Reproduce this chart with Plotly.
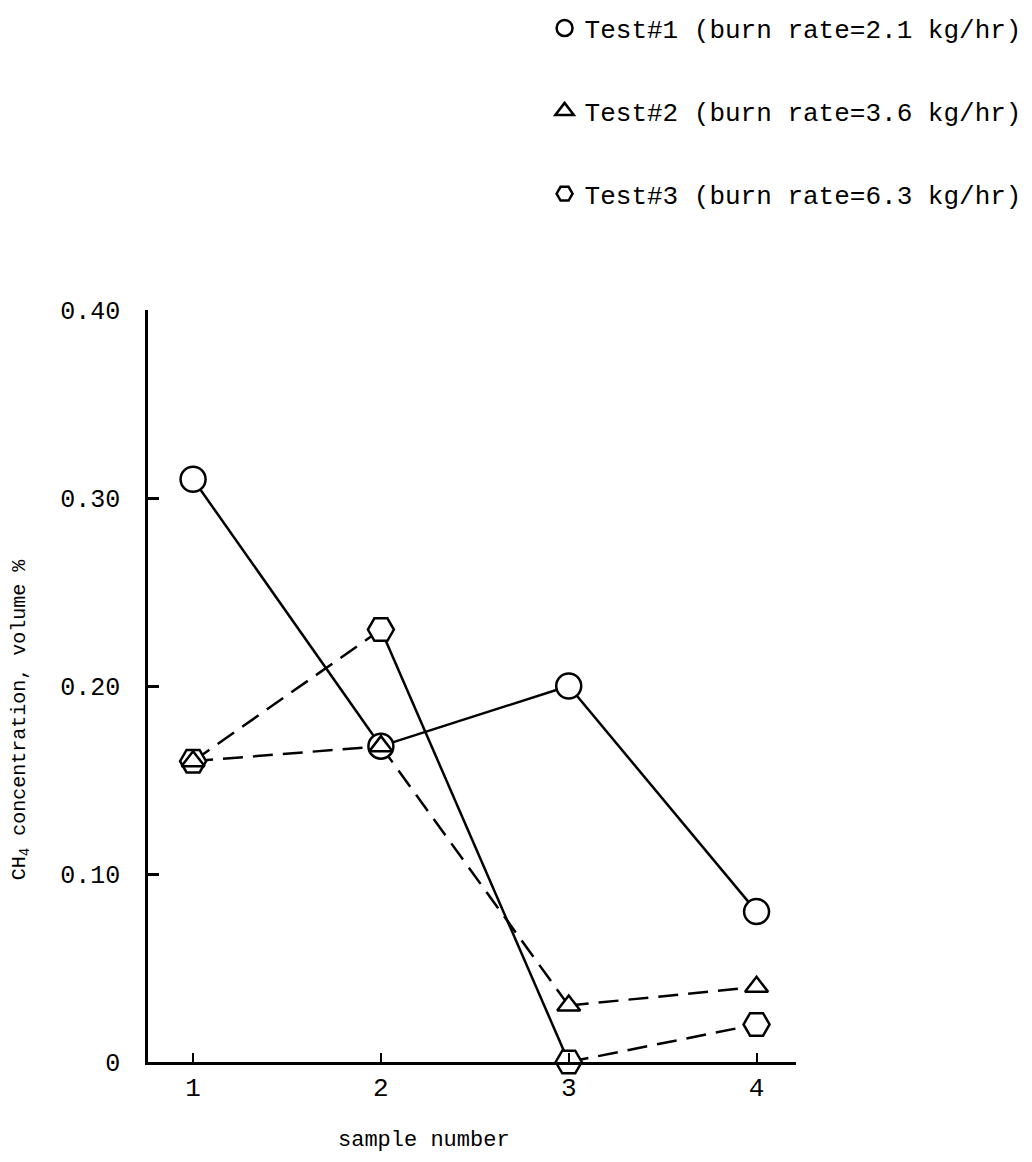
import plotly.graph_objects as go

# Sample numbers and CH4 concentration (volume %) for each test
samples = [1, 2, 3, 4]
test1_ch4 = [0.31, 0.168, 0.20, 0.08]
test2_ch4 = [0.16, 0.168, 0.03, 0.04]
test3_ch4 = [0.16, 0.23, 0.0, 0.02]

test_names = [
    "Test#1 (burn rate=2.1 kg/hr)",
    "Test#2 (burn rate=3.6 kg/hr)",
    "Test#3 (burn rate=6.3 kg/hr)",
]

# Line style of each connecting segment (1-2, 2-3, 3-4)
test1_dash = ["solid", "solid", "solid"]
test2_dash = ["dash", "dash", "dash"]
test3_dash = ["dash", "solid", "dash"]

y_tickvals = [0, 0.10, 0.20, 0.30, 0.40]
y_ticktext = ["0", "0.10", "0.20", "0.30", "0.40"]

FONT = "Liberation Mono"
INK = "black"
DASH = "20px,10px"

fig = go.Figure()

series = [
    (test1_ch4, test1_dash),
    (test2_ch4, test2_dash),
    (test3_ch4, test3_dash),
]

# connecting segments, each with its own dash pattern
for vals, dashes in series:
    for i in range(len(samples) - 1):
        fig.add_trace(go.Scatter(
            x=samples[i:i + 2], y=vals[i:i + 2], mode="lines",
            line=dict(color=INK, width=2.5,
                      dash=DASH if dashes[i] == "dash" else "solid"),
            showlegend=False, hoverinfo="skip", cliponaxis=False,
        ))

# markers: white-filled symbols drawn on top of the lines
marker_specs = [
    (test1_ch4, "circle", 25, test_names[0], 1),
    (test3_ch4, "hexagon2", 26, test_names[2], 3),
    (test2_ch4, "triangle-up", 20, test_names[1], 2),
]
for vals, sym, size, name, rank in marker_specs:
    fig.add_trace(go.Scatter(
        x=samples, y=vals, mode="markers", name=name,
        legendgroup=name, legendrank=rank,
        marker=dict(symbol=sym, size=size, color="white",
                    line=dict(color=INK, width=2.5)),
        cliponaxis=False,
    ))

fig.update_layout(
    width=1032, height=1162,
    margin=dict(l=148, r=236, t=310, b=100, autoexpand=False),
    paper_bgcolor="white", plot_bgcolor="white",
    font=dict(family=FONT, color=INK, size=22),
    showlegend=True,
    legend=dict(
        xref="paper", yref="paper",
        x=0.612, y=1.406, xanchor="left", yanchor="top",
        font=dict(family=FONT, size=26, color=INK),
        tracegroupgap=46, bgcolor="rgba(0,0,0,0)",
        itemsizing="trace",
    ),
    xaxis=dict(
        range=[0.76, 4.21], tickvals=samples,
        ticktext=[str(s) for s in samples],
        ticks="inside", ticklen=9, tickwidth=2, tickcolor=INK,
        showline=True, linecolor=INK, linewidth=2.5,
        showgrid=False, zeroline=False,
        tickfont=dict(family=FONT, size=26),
        ticklabelstandoff=0,
    ),
    yaxis=dict(
        range=[0, 0.40], tickvals=y_tickvals, ticktext=y_ticktext,
        ticks="inside", ticklen=11, tickwidth=2.5, tickcolor=INK,
        showline=True, linecolor=INK, linewidth=2.5,
        showgrid=False, zeroline=False,
        tickfont=dict(family=FONT, size=25),
        ticklabelstandoff=20,
    ),
    annotations=[
        dict(text="sample number", xref="paper", yref="paper",
             x=0.426, y=-0.104, xanchor="center", yanchor="middle",
             showarrow=False, font=dict(family=FONT, size=22)),
        dict(text="CH<sub>4</sub> concentration, volume %",
             xref="paper", yref="paper", x=-0.197, y=0.455,
             xanchor="center", yanchor="middle", textangle=-90,
             showarrow=False, font=dict(family=FONT, size=20)),
    ],
)

fig.write_html("out.html")
